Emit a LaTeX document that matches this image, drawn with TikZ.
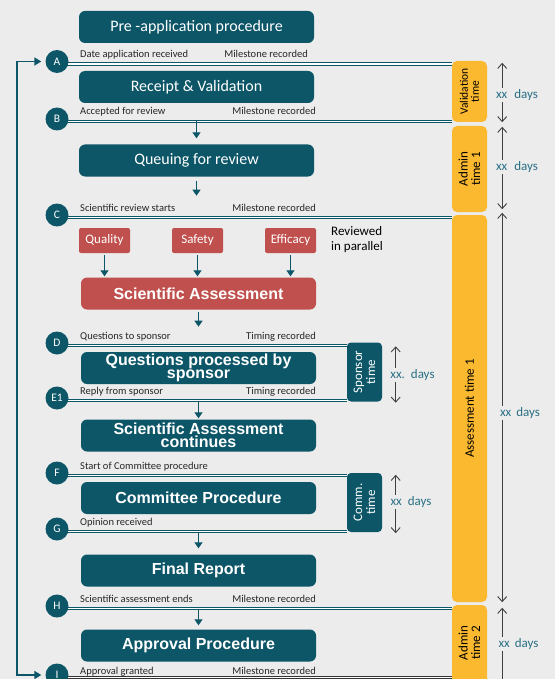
\documentclass[tikz,border=0pt]{standalone}
\usepackage{fontspec}
\setmainfont{Carlito}
\newfontfamily\headfont{Liberation Sans}
\usetikzlibrary{arrows.meta}

\definecolor{emateal}{RGB}{12,86,104}
\definecolor{emared}{RGB}{192,80,77}
\definecolor{emaorange}{RGB}{251,185,48}
\definecolor{pagebg}{RGB}{236,236,236}
\definecolor{daysblue}{RGB}{42,112,132}

\pgfdeclarelayer{background}
\pgfdeclarelayer{wires}
\pgfsetlayers{background,wires,main}

\begin{document}
\begin{tikzpicture}[x=1pt,y=-1pt,
  stage/.style={rectangle, rounded corners=6pt, fill=emateal, text=white,
    minimum width=235pt, minimum height=32pt, inner sep=0pt, align=center,
    font=\fontsize{16}{16}\selectfont},
  stagebold/.style={stage, font=\headfont\bfseries\fontsize{16}{13}\selectfont},
  redstage/.style={stagebold, fill=emared},
  reviewbox/.style={rectangle, rounded corners=2pt, fill=emared, text=white,
    minimum width=51pt, minimum height=25pt, inner sep=0pt,
    font=\fontsize{13}{13}\selectfont},
  milestone/.style={circle, fill=emateal, text=white, minimum size=23pt,
    inner sep=0pt, font=\fontsize{11.5}{11.5}\selectfont},
  eventnote/.style={inner sep=0pt, font=\fontsize{10.5}{10.5}\selectfont, text=black!85},
  dline/.style={draw=emateal, line width=1pt, double=white, double distance=1.2pt},
  flowarrow/.style={draw=emateal, line width=1.3pt, -{Triangle[length=6pt,width=8pt]}},
  periodbar/.style={rectangle, rounded corners=5pt, fill=emaorange,
    minimum width=35pt, inner sep=0pt},
  periodtext/.style={rotate=90, align=center, inner sep=0pt,
    font=\fontsize{13}{12.5}\selectfont},
  clockbox/.style={rectangle, rounded corners=4pt, fill=emateal,
    minimum width=35pt, minimum height=59pt, inner sep=0pt},
  clocktext/.style={rotate=90, align=center, text=white, inner sep=0pt,
    font=\fontsize{13}{13}\selectfont},
  durline/.style={draw=black!75, line width=0.9pt,
    {Straight Barb[length=5pt,width=9pt]}-{Straight Barb[length=5pt,width=9pt]}},
  daysnote/.style={fill=pagebg, inner sep=1.5pt, text=daysblue,
    font=\fontsize{13}{13}\selectfont},
]
\useasboundingbox (0,0) rectangle (555,679);
\clip (0,0) rectangle (555,679);
\begin{pgfonlayer}{background}
  \fill[pagebg] (0,0) rectangle (555,679);
\end{pgfonlayer}

% process stages
\node[stage] (pre) at (196.5,27) {Pre -application procedure};
\node[stage] (receipt) at (196.5,87) {Receipt \& Validation};
\node[stage] (queue) at (196.5,160.5) {Queuing for review};
\node[reviewbox] (quality) at (104.5,240.5) {Quality};
\node[reviewbox] (safety) at (197.5,240.5) {Safety};
\node[reviewbox] (efficacy) at (290.5,240.5) {Efficacy};
\node[align=left, anchor=west, inner sep=0pt, font=\fontsize{13}{15}\selectfont]
  (parallel) at (331,240) {Reviewed\\in parallel};
\node[redstage] (sa) at (198.5,293.5) {Scientific Assessment};
\node[stagebold] (qps) at (198.5,368) {Questions processed by\\sponsor};
\node[stagebold] (sac) at (198.5,435.5) {Scientific Assessment\\continues};
\node[stagebold] (comm) at (198.5,498) {Committee Procedure};
\node[stagebold] (final) at (198.5,570.5) {Final Report};
\node[stagebold] (approval) at (198.5,645.5) {Approval Procedure};

% milestones, each with the point where its line leaves the circle
\foreach \n/\y in {A/61.5,B/119,C/215,D/343,E1/398,F/473,G/529,H/606,I/675} {
  \node[milestone] (\n) at (57,\y) {\n};
  \coordinate (line\n) at (57,\y+2.5);
}

% time bars
\node[periodbar, minimum height=61pt] (valid) at (469.5,91.5) {};
\node[periodtext, font=\fontsize{11.5}{11}\selectfont] at (valid) {Validation\\time};
\node[periodbar, minimum height=86pt] (admin1) at (469.5,169) {};
\node[periodtext] at (admin1) {Admin\\time 1};
\node[periodbar, minimum height=387pt] (assess) at (469.5,408.5) {};
\node[periodtext] at (assess) {Assessment time 1};
\node[periodbar, minimum height=90pt] (admin2) at (469.5,650) {};
\node[periodtext] at (469.5,643) {Admin\\time 2};

\node[clockbox] (sponsor) at (364.5,372) {};
\node[clocktext] at (sponsor) {Sponsor\\time};
\node[clockbox] (committime) at (364.5,502.5) {};
\node[clocktext] at (committime) {Comm.\\time};

% milestone lines
\begin{pgfonlayer}{wires}
  \draw[dline] (lineA) -- (lineA -| valid.west);
  \draw[dline] (lineB) -- (lineB -| valid.west);
  \draw[dline] (lineC) -- (lineC -| assess.west);
  \draw[dline] (lineD) -- (lineD -| sponsor.west);
  \draw[dline] (lineE1) -- (lineE1 -| sponsor.west);
  \draw[dline] (lineF) -- (lineF -| committime.west);
  \draw[dline] (lineG) -- (lineG -| committime.west);
  \draw[dline] (lineH) -- (lineH -| assess.west);
  \draw[dline, draw=black!80] (lineI) -- (lineI -| admin2.west);
\end{pgfonlayer}

% milestone notes
\node[eventnote, anchor=base west] at (80,57.5) {Date application received};
\node[eventnote, anchor=base east] at (308,57.5) {Milestone recorded};
\node[eventnote, anchor=base west] at (80,115) {Accepted for review};
\node[eventnote, anchor=base east] at (316,115) {Milestone recorded};
\node[eventnote, anchor=base west] at (80,211) {Scientific review starts};
\node[eventnote, anchor=base east] at (316,211) {Milestone recorded};
\node[eventnote, anchor=base west] at (80,339) {Questions to sponsor};
\node[eventnote, anchor=base east] at (316,339) {Timing recorded};
\node[eventnote, anchor=base west] at (80,394) {Reply from sponsor};
\node[eventnote, anchor=base east] at (316,394) {Timing recorded};
\node[eventnote, anchor=base west] at (80,469) {Start of Committee procedure};
\node[eventnote, anchor=base west] at (80,525) {Opinion received};
\node[eventnote, anchor=base west] at (80,602) {Scientific assessment ends};
\node[eventnote, anchor=base east] at (316,602) {Milestone recorded};
\node[eventnote, anchor=base west] at (80,674.5) {Approval granted};
\node[eventnote, anchor=base east] at (316,674.5) {Milestone recorded};

% flow arrows
\draw[flowarrow] (queue.north |- lineB) -- ([yshift=6pt]queue.north);
\draw[flowarrow] ([yshift=-4pt]queue.south) -- ([yshift=-19pt]queue.south);
\foreach \r in {quality,safety,efficacy}
  \draw[flowarrow, shorten >=1pt] ([yshift=-2pt]\r.south) -- (\r.south |- sa.north);
\draw[flowarrow] ([yshift=-2pt]sa.south) -- ([yshift=-17pt]sa.south);
\draw[flowarrow] (sac.north |- lineE1) -- ([yshift=1pt]sac.north);
\draw[flowarrow] (final.north |- lineG) -- ([yshift=6pt]final.north);
\draw[flowarrow] (approval.north |- lineH) -- ([yshift=4pt]approval.north);

% return loop
\draw[emateal, line width=1.8pt, shorten <=4pt, shorten >=4pt,
  {Triangle[length=7pt,width=8pt]}-{Triangle[length=7pt,width=8pt]}]
  (A.west) -- ++(-28.5,0) |- (I.west);

% durations
\draw[durline] ([xshift=15pt,yshift=-2pt]valid.north east) -- ([xshift=15pt]valid.south east);
\node[daysnote] at (517,95) {xx\hspace{7pt}days};
\draw[durline] ([xshift=15pt,yshift=-1pt]admin1.north east) -- ([xshift=15pt,yshift=3pt]admin1.south east);
\node[daysnote] at (517,167) {xx\hspace{7pt}days};
\draw[durline] ([xshift=15pt,yshift=2pt]assess.north east) -- ([xshift=15pt]assess.south east);
\node[daysnote] at (520,413) {xx\hspace{5pt}days};
\draw[durline] ([xshift=15pt,yshift=-3pt]admin2.north east) -- ([xshift=15pt]admin2.south east);
\node[daysnote] at (518.5,644) {xx\hspace{5pt}days};
\draw[durline] ([xshift=13.5pt,yshift=-4pt]sponsor.north east) -- ([xshift=13.5pt,yshift=-1pt]sponsor.south east);
\node[daysnote] at (412.5,375) {xx.\hspace{6pt}days};
\draw[durline] ([xshift=13.5pt,yshift=-2pt]committime.north east) -- ([xshift=13.5pt,yshift=-1pt]committime.south east);
\node[daysnote] at (411,502) {xx\hspace{6pt}days};
\end{tikzpicture}
\end{document}
